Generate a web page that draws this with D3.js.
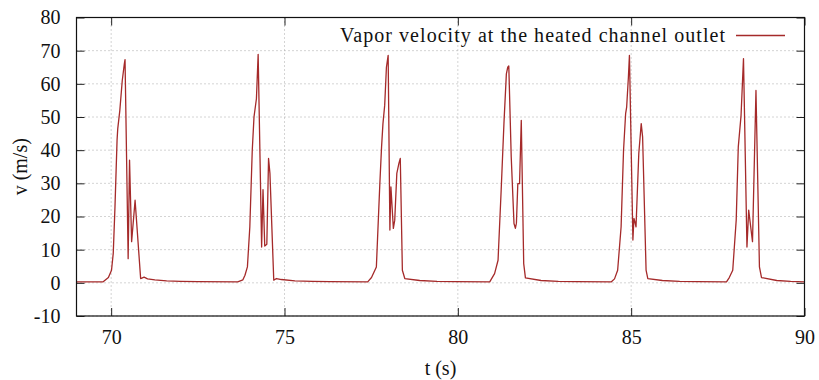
<!DOCTYPE html>
<html><head><meta charset="utf-8">
<script src="https://cdn.jsdelivr.net/npm/d3@7"></script>
<style>
html,body{margin:0;padding:0;background:#fff;}
svg text{font-family:"Liberation Serif",serif;fill:#111;}
</style></head>
<body>
<svg id="chart" width="819" height="380"></svg>
<script>
const xTicks = [70, 75, 80, 85, 90];
const yTicks = [-10, 0, 10, 20, 30, 40, 50, 60, 70, 80];
const seriesName = "Vapor velocity at the heated channel outlet";
const tValues = [
 69.00, 69.77, 69.92, 70.01, 70.06, 70.11, 70.17, 70.19, 70.25, 70.32, 70.38, 70.40,
 70.49, 70.53, 70.59, 70.69, 70.85, 70.95, 71.05, 71.26, 71.6, 72.0, 72.5,
 73.65, 73.80, 73.86, 73.93, 74.00, 74.07, 74.12, 74.19, 74.24, 74.34, 74.38, 74.43, 74.49, 74.54, 74.58, 74.69, 74.77, 74.91, 75.3, 75.8, 76.3,
 77.40, 77.51, 77.65, 77.75, 77.80, 77.84, 77.89, 77.94, 77.99, 78.04, 78.07, 78.14, 78.18, 78.24, 78.30, 78.34, 78.40, 78.47, 78.9, 79.4, 79.9,
 80.92, 81.06, 81.16, 81.25, 81.33, 81.40, 81.44, 81.47, 81.54, 81.62, 81.66, 81.69, 81.73, 81.78, 81.83, 81.90, 81.95, 82.4, 82.9, 83.4,
 84.43, 84.52, 84.61, 84.71, 84.78, 84.84, 84.87, 84.92, 84.95, 85.05, 85.08, 85.11, 85.14, 85.22, 85.29, 85.33, 85.43, 85.48, 85.9, 86.4, 86.9,
 87.75, 87.83, 87.93, 88.03, 88.09, 88.17, 88.24, 88.34, 88.39, 88.50, 88.60, 88.70, 88.76, 89.2, 89.6, 90.00
];
const vValues = [
 0.3, 0.3, 1.6, 3.8, 8.9, 22.9, 43.0, 46.5, 52.0, 61.0, 66.0, 67.3,
 7.3, 37.0, 12.4, 24.9, 1.3, 1.7, 1.2, 0.9, 0.6, 0.45, 0.35,
 0.3, 0.9, 2.3, 4.8, 16.9, 40.0, 50.0, 55.5, 68.9, 10.8, 28.1, 11.1, 11.6, 37.5, 33.0, 0.8, 1.3, 1.0, 0.6, 0.45, 0.35,
 0.3, 1.6, 4.8, 29.9, 41.0, 48.0, 53.5, 65.0, 68.6, 15.9, 28.9, 16.4, 18.9, 33.0, 36.0, 37.5, 3.8, 1.3, 0.7, 0.45, 0.35,
 0.3, 2.8, 6.8, 27.9, 48.0, 63.0, 65.0, 65.4, 38.0, 17.9, 16.4, 18.0, 29.9, 29.9, 49.0, 5.8, 1.5, 0.7, 0.45, 0.35,
 0.3, 1.2, 3.8, 16.9, 40.0, 51.0, 53.0, 62.0, 68.6, 12.9, 19.4, 18.3, 16.9, 39.0, 48.0, 44.0, 3.8, 1.3, 0.7, 0.45, 0.35,
 0.3, 1.6, 3.8, 18.9, 41.0, 50.5, 67.6, 10.8, 21.9, 12.4, 58.0, 4.8, 1.6, 0.7, 0.45, 0.3
];
const data = tValues.map((t, i) => ({t, v: vValues[i]}));

const L = 76.5, R = 804.5, T = 17.5, B = 316;
const FONT = '"Liberation Serif", serif';
const FS = 20;
const svg = d3.select("#chart");
const x = d3.scaleLinear().domain([69, 90]).range([L, R]);
const y = d3.scaleLinear().domain([-10, 80]).range([B, T]);
const fmt = d => String(d); // plain hyphen for negatives, as in the reference

// grid
const grid = svg.append("g").attr("stroke", "#a8a8a8").attr("stroke-width", 1).attr("stroke-dasharray", "1,3");
xTicks.forEach(t => grid.append("line").attr("x1", x(t)).attr("x2", x(t)).attr("y1", T).attr("y2", B));
yTicks.forEach(t => grid.append("line").attr("x1", L).attr("x2", R).attr("y1", y(t)).attr("y2", y(t)));

// ticks (inward, mirrored)
const tk = 8;
svg.append("g").attr("transform", `translate(0,${B})`)
  .call(d3.axisBottom(x).tickValues(xTicks).tickSize(-tk).tickPadding(14).tickFormat(fmt))
  .call(g => g.select(".domain").remove());
svg.append("g").attr("transform", `translate(0,${T})`)
  .call(d3.axisTop(x).tickValues(xTicks).tickSize(-tk).tickFormat(""))
  .call(g => g.select(".domain").remove());
svg.append("g").attr("transform", `translate(${L},0)`)
  .call(d3.axisLeft(y).tickValues(yTicks).tickSize(-tk).tickPadding(16).tickFormat(fmt))
  .call(g => g.select(".domain").remove());
svg.append("g").attr("transform", `translate(${R},0)`)
  .call(d3.axisRight(y).tickValues(yTicks).tickSize(-tk).tickFormat(""))
  .call(g => g.select(".domain").remove());
svg.selectAll("g").attr("font-family", FONT).attr("font-size", FS);
svg.selectAll(".tick line").attr("stroke", "#222").attr("stroke-width", 1);
svg.selectAll(".tick text").attr("fill", "#111");

// line
const line = d3.line().x(d => x(d.t)).y(d => y(d.v));
svg.append("path").datum(data).attr("d", line)
  .attr("fill", "none").attr("stroke", "#a52a2a").attr("stroke-width", 1.3).attr("stroke-linejoin", "round");

// border
svg.append("rect").attr("x", L).attr("y", T).attr("width", R - L).attr("height", B - T)
  .attr("fill", "none").attr("stroke", "#111").attr("stroke-width", 1.2);

// legend
svg.append("text").attr("x", 340).attr("y", 42).attr("font-family", FONT).attr("font-size", FS)
  .attr("textLength", 385).attr("lengthAdjust", "spacing").text(seriesName);
svg.append("line").attr("x1", 736).attr("x2", 785).attr("y1", 35.5).attr("y2", 35.5)
  .attr("stroke", "#a52a2a").attr("stroke-width", 1.3);

// axis titles
svg.append("text").attr("x", (L + R) / 2).attr("y", 375).attr("text-anchor", "middle")
  .attr("font-family", FONT).attr("font-size", FS).text("t (s)");
svg.append("text").attr("transform", `translate(27,${(T + B) / 2}) rotate(-90)`).attr("text-anchor", "middle")
  .attr("font-family", FONT).attr("font-size", FS).text("v (m/s)");
</script>
</body></html>
